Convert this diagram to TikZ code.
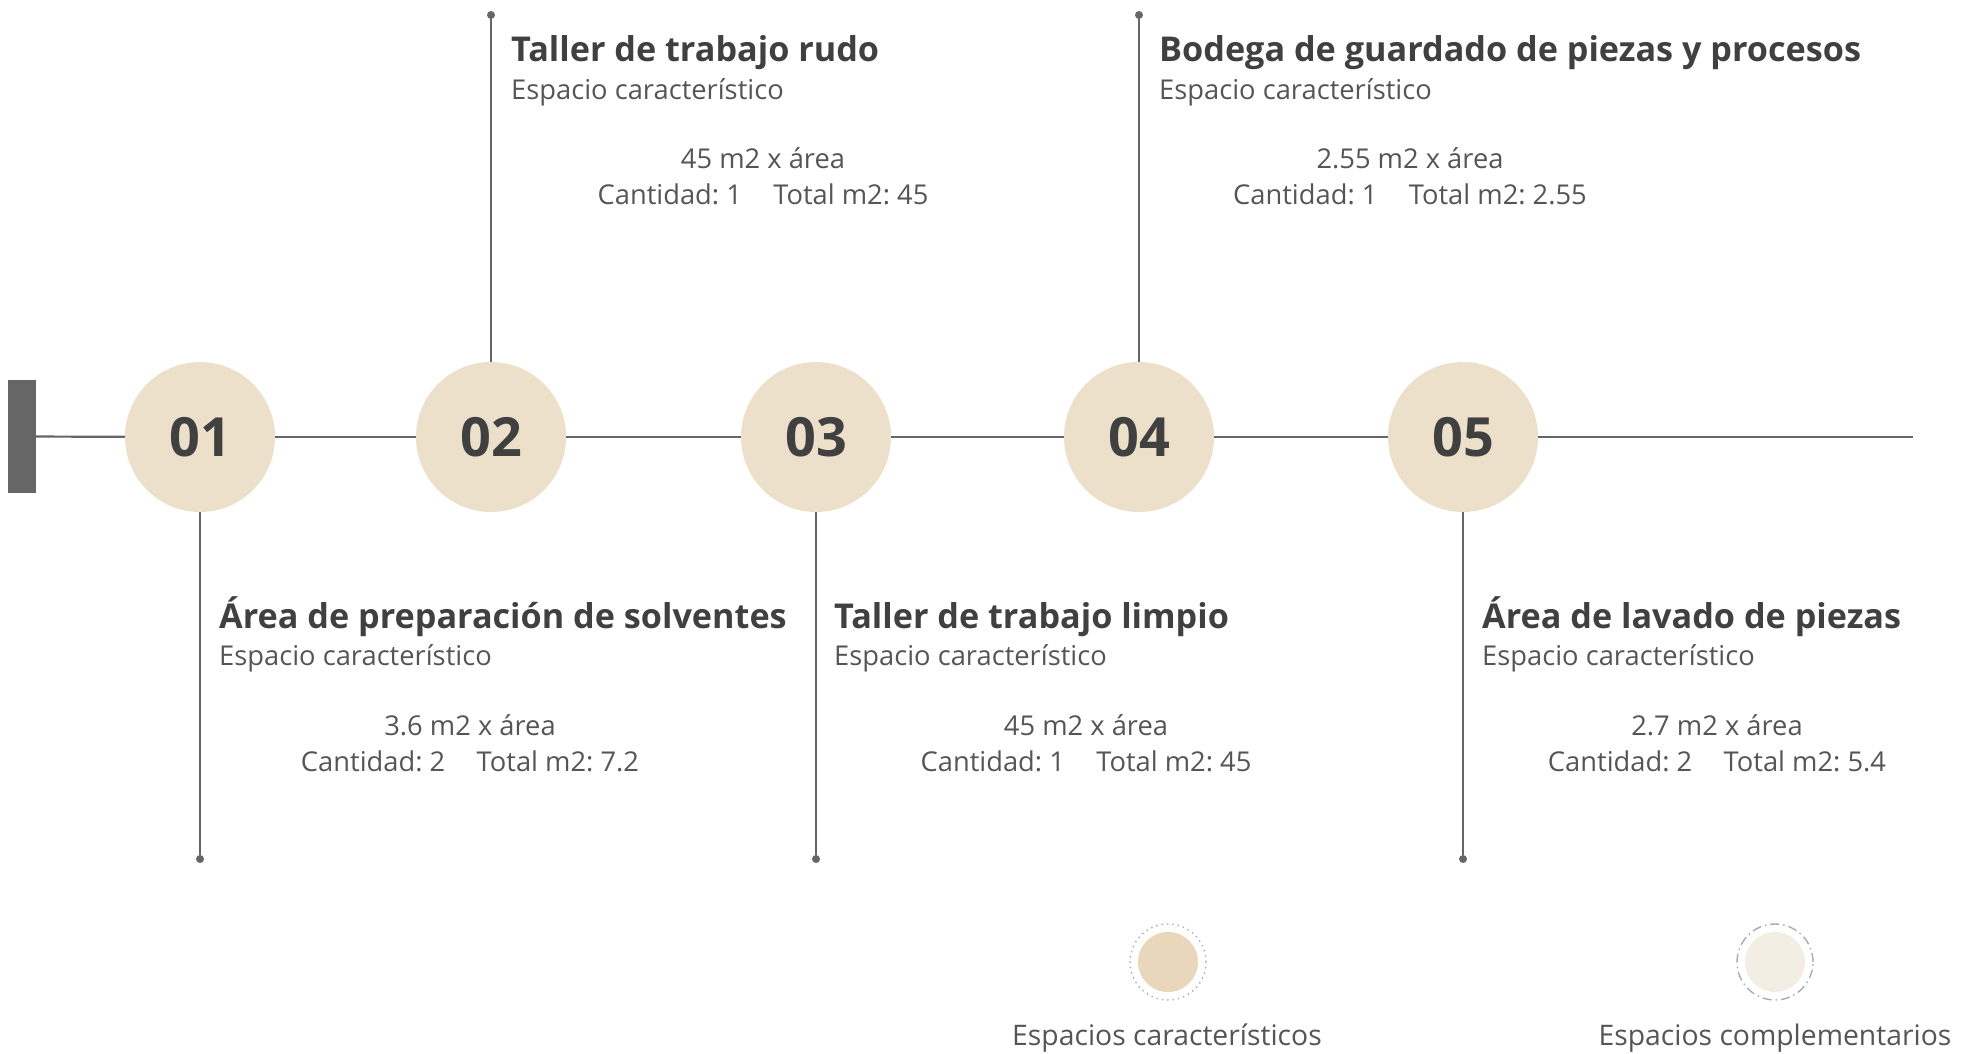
\documentclass[tikz,border=0pt]{standalone}
\usepackage{fontspec}
\setmainfont{Open Sans}
\usetikzlibrary{positioning}
\frenchspacing

\definecolor{lineGray}{HTML}{666666}
\definecolor{inkDark}{HTML}{404040}
\definecolor{inkGray}{HTML}{555555}
\definecolor{sandFill}{HTML}{EDE0CB}
\definecolor{sandDeep}{HTML}{E8D7BA}
\definecolor{sandPale}{HTML}{F3EEE3}
\definecolor{ringGray}{HTML}{ABABAB}

\begin{document}
\begin{tikzpicture}[
    x=1pt, y=-1pt,
    rail/.style={draw=lineGray, line width=2.2pt},
    stem/.style={draw=lineGray, line width=2pt},
    milestone/.style={
        circle,
        fill=sandFill,
        minimum size=150pt,
        inner sep=0pt,
        text=inkDark,
        font=\fontsize{54}{54}\selectfont\bfseries
    },
    tip/.style={circle, fill=lineGray, minimum size=8pt, inner sep=0pt},
    spacetitle/.style={
        anchor=base west,
        inner sep=0pt,
        text=inkDark,
        font=\fontsize{34.2}{38}\selectfont\bfseries
    },
    spacekind/.style={
        anchor=base west,
        inner sep=0pt,
        text=inkGray,
        font=\fontsize{27.3}{30}\selectfont
    },
    spacedata/.style={
        anchor=base,
        inner sep=0pt,
        text=inkGray,
        font=\fontsize{27.3}{30}\selectfont
    },
    keydot/.style={circle, minimum size=60pt, inner sep=0pt},
    keyring/.style={circle, minimum size=76pt, inner sep=0pt, draw=ringGray, line width=1.4pt},
    keytext/.style={
        anchor=base,
        inner sep=0pt,
        text=inkGray,
        font=\fontsize{28.3}{32}\selectfont
    }
]

\useasboundingbox (0,0) rectangle (1969,1053);

% timeline
\node[fill=lineGray, minimum width=28pt, minimum height=113pt, inner sep=0pt] (start) at (22,436.5) {};
\node[milestone] (m01) at (200,437) {01};
\node[milestone] (m02) at (491,437) {02};
\node[milestone] (m03) at (816,437) {03};
\node[milestone] (m04) at (1139,437) {04};
\node[milestone] (m05) at (1463,437) {05};
\coordinate (finish) at (1913,437);

\draw[rail] (start) -- (m01);
\draw[rail] (m01) -- (m02);
\draw[rail] (m02) -- (m03);
\draw[rail] (m03) -- (m04);
\draw[rail] (m04) -- (m05);
\draw[rail] (m05) -- (finish);

% stems
\node[tip] (top02) at (491,15) {};
\node[tip] (top04) at (1139,15) {};
\node[tip] (foot01) at (200,859) {};
\node[tip] (foot03) at (816,859) {};
\node[tip] (foot05) at (1463,859) {};

\draw[stem] (m02) -- (top02);
\draw[stem] (m04) -- (top04);
\draw[stem] (m01) -- (foot01);
\draw[stem] (m03) -- (foot03);
\draw[stem] (m05) -- (foot05);

% upper spaces
\node[spacetitle] (title02) at (511,61) {Taller de trabajo rudo};
\node[spacekind] (kind02) at (511,99) {Espacio característico};
\node[spacedata] (area02) at (763,168) {45 m2 x área};
\node[spacedata] (total02) at (763,204) {Cantidad: 1\hspace{1.15em}Total m2: 45};

\node[spacetitle] (title04) at (1159,61) {Bodega de guardado de piezas y procesos};
\node[spacekind] (kind04) at (1159,99) {Espacio característico};
\node[spacedata] (area04) at (1410,168) {2.55 m2 x área};
\node[spacedata] (total04) at (1410,204) {Cantidad: 1\hspace{1.15em}Total m2: 2.55};

% lower spaces
\node[spacetitle] (title01) at (219,628) {Área de preparación de solventes};
\node[spacekind] (kind01) at (219,665) {Espacio característico};
\node[spacedata] (area01) at (470,735) {3.6 m2 x área};
\node[spacedata] (total01) at (470,771) {Cantidad: 2\hspace{1.15em}Total m2: 7.2};

\node[spacetitle] (title03) at (834,628) {Taller de trabajo limpio};
\node[spacekind] (kind03) at (834,665) {Espacio característico};
\node[spacedata] (area03) at (1086,735) {45 m2 x área};
\node[spacedata] (total03) at (1086,771) {Cantidad: 1\hspace{1.15em}Total m2: 45};

\node[spacetitle] (title05) at (1482,628) {Área de lavado de piezas};
\node[spacekind] (kind05) at (1482,665) {Espacio característico};
\node[spacedata] (area05) at (1717,735) {2.7 m2 x área};
\node[spacedata] (total05) at (1717,771) {Cantidad: 2\hspace{1.15em}Total m2: 5.4};

% legend
\node[keydot, fill=sandDeep] (keychar) at (1168,962) {};
\node[keyring, dash pattern=on 1.4pt off 4pt] (keycharring) at (1168,962) {};
\node[keytext] (keychartext) at (1167,1045) {Espacios característicos};

\node[keydot, fill=sandPale] (keycomp) at (1775,962) {};
\node[keyring, dash pattern=on 9pt off 4pt on 1.5pt off 4pt] (keycompring) at (1775,962) {};
\node[keytext] (keycomptext) at (1775,1045) {Espacios complementarios};

\end{tikzpicture}
\end{document}
